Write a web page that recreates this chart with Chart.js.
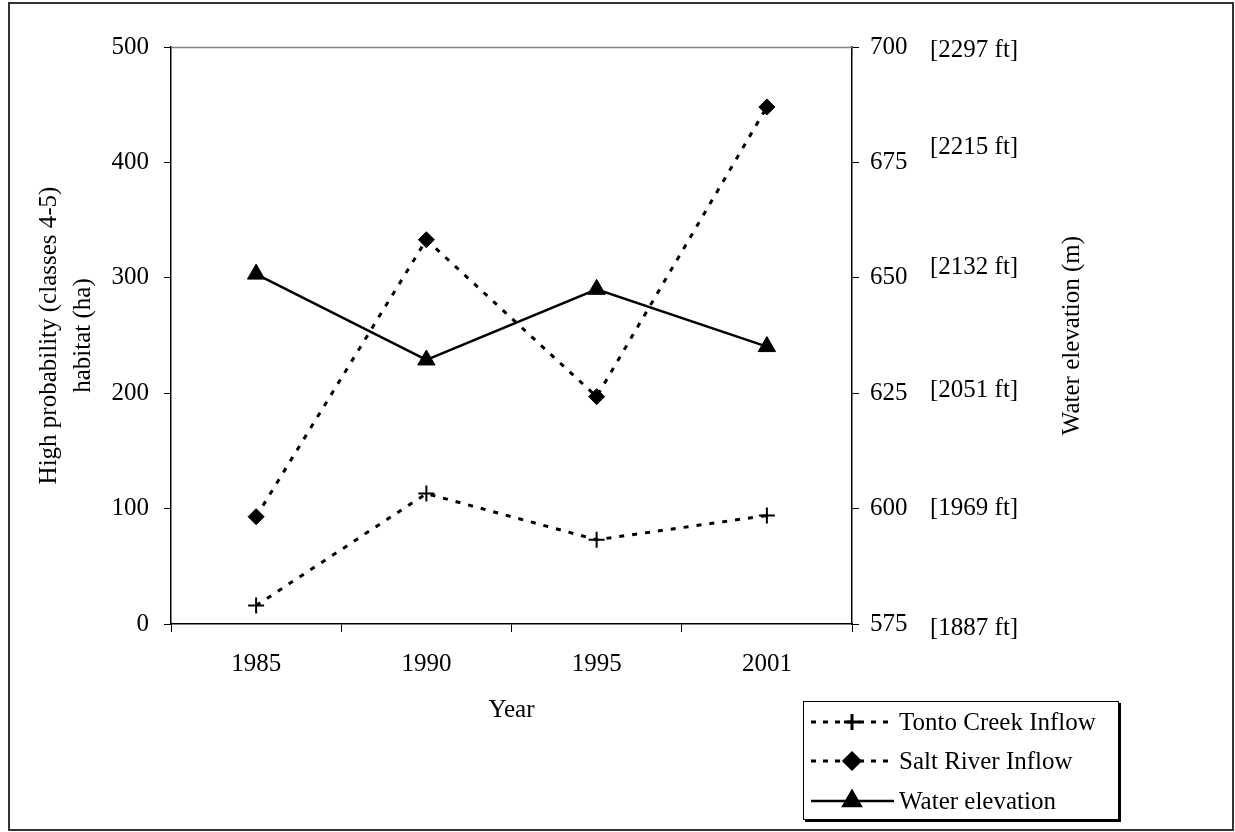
<!DOCTYPE html>
<html>
<head>
<meta charset="utf-8">
<script src="https://cdn.jsdelivr.net/npm/chart.js@4/dist/chart.umd.min.js"></script>
<style>
  body { margin: 0; background: #fff; }
</style>
</head>
<body>
<canvas id="chart" width="1235" height="832"></canvas>
<script>
// values
const years = ['1985', '1990', '1995', '2001']
const tontoCreek = [16, 113, 73, 94]
const saltRiver = [93, 333, 197, 448]
const waterElevation = [650.8, 632.2, 647.5, 635.1]
const elevTicks = [575, 600, 625, 650, 675, 700]
const feetLabels = ['[1887 ft]', '[1969 ft]', '[2051 ft]', '[2132 ft]', '[2215 ft]', '[2297 ft]']

const FONT = "'Liberation Serif', 'Times New Roman', serif"
const fontSpec = { family: FONT, size: 25 }

const extras = {
  id: 'extras',
  beforeDraw(chart) {
    const ctx = chart.ctx
    ctx.save()
    ctx.fillStyle = '#fff'
    ctx.fillRect(0, 0, chart.width, chart.height)
    ctx.strokeStyle = '#333'
    ctx.lineWidth = 2
    ctx.strokeRect(9, 3, 1224, 827)
    ctx.restore()
  },
  beforeDatasetsDraw(chart) {
    // gray top edge of the plot area
    const ctx = chart.ctx
    const a = chart.chartArea
    ctx.save()
    ctx.strokeStyle = '#808080'
    ctx.lineWidth = 1.5
    ctx.beginPath()
    ctx.moveTo(a.left, a.top + 0.5)
    ctx.lineTo(a.right, a.top + 0.5)
    ctx.stroke()
    ctx.restore()
  },
  afterDraw(chart) {
    const ctx = chart.ctx
    const a = chart.chartArea
    const yR = chart.scales.yR
    ctx.save()
    ctx.fillStyle = '#000'
    ctx.font = '25px ' + FONT

    // feet labels sit in their own text box, slightly off the ticks
    const nudge = [4, 0, -3, -10, -15, 3]
    ctx.textAlign = 'left'
    ctx.textBaseline = 'middle'
    elevTicks.forEach((v, i) => {
      ctx.fillText(feetLabels[i], 930, yR.getPixelForValue(v) + nudge[i])
    })

    // x axis title
    ctx.textAlign = 'center'
    ctx.fillText('Year', (a.left + a.right) / 2, 710)

    // left title, two lines
    const midY = (a.top + a.bottom) / 2
    ctx.save()
    ctx.translate(49, midY)
    ctx.rotate(-Math.PI / 2)
    ctx.fillText('High probability (classes 4-5)', 0, 0)
    ctx.restore()
    ctx.save()
    ctx.translate(83, midY)
    ctx.rotate(-Math.PI / 2)
    ctx.fillText('habitat (ha)', 0, 0)
    ctx.restore()

    // right title
    ctx.save()
    ctx.translate(1072, midY)
    ctx.rotate(-Math.PI / 2)
    ctx.fillText('Water elevation (m)', 0, 0)
    ctx.restore()

    // legend box with shadow
    ctx.fillStyle = '#000'
    ctx.fillRect(805, 703, 316, 119)
    ctx.fillStyle = '#fff'
    ctx.fillRect(803, 701, 316, 119)
    ctx.strokeStyle = '#000'
    ctx.lineWidth = 1
    ctx.strokeRect(803.5, 701.5, 315, 118)

    const rows = [722, 761, 801]
    chart.data.datasets.forEach((ds, i) => {
      const y = rows[i]
      ctx.strokeStyle = '#000'
      ctx.lineWidth = ds.borderWidth
      ctx.setLineDash(ds.borderDash ? [5, 7] : [])
      ctx.beginPath()
      ctx.moveTo(811, y)
      ctx.lineTo(894, y)
      ctx.stroke()
      ctx.setLineDash([])
      ctx.fillStyle = '#000'
      Chart.helpers.drawPoint(ctx, {
        pointStyle: ds.pointStyle,
        radius: ds.pointRadius,
        rotation: 0,
        borderWidth: ds.pointBorderWidth
      }, 852, y)
      ctx.fillStyle = '#000'
      ctx.textAlign = 'left'
      ctx.textBaseline = 'middle'
      ctx.fillText(ds.label, 899, y + 1)
    })
    ctx.restore()
  }
}

function makeChart() {
  const ctx = document.getElementById('chart').getContext('2d')
  return new Chart(ctx, {
    type: 'line',
    data: {
      labels: years,
      datasets: [
        {
          label: 'Tonto Creek Inflow',
          data: tontoCreek,
          yAxisID: 'y',
          borderColor: '#000',
          backgroundColor: '#000',
          borderWidth: 3,
          borderDash: [5, 8],
          pointStyle: 'cross',
          pointRadius: 8,
          pointBorderWidth: 2,
          pointBorderColor: '#000',
          tension: 0
        },
        {
          label: 'Salt River Inflow',
          data: saltRiver,
          yAxisID: 'y',
          borderColor: '#000',
          backgroundColor: '#000',
          borderWidth: 3,
          borderDash: [5, 8],
          pointStyle: 'rectRot',
          pointRadius: 8,
          pointBorderWidth: 1,
          pointBackgroundColor: '#000',
          pointBorderColor: '#000',
          tension: 0
        },
        {
          label: 'Water elevation',
          data: waterElevation,
          yAxisID: 'yR',
          borderColor: '#000',
          backgroundColor: '#000',
          borderWidth: 2.5,
          pointStyle: 'triangle',
          pointRadius: 10,
          pointBorderWidth: 1,
          pointBackgroundColor: '#000',
          pointBorderColor: '#000',
          tension: 0
        }
      ]
    },
    options: {
      responsive: false,
      animation: false,
      devicePixelRatio: 1,
      layout: { padding: { top: 47, left: 0, right: 0, bottom: 0 } },
      plugins: {
        legend: { display: false },
        tooltip: { enabled: false }
      },
      scales: {
        x: {
          offset: true,
          grid: { offset: true, drawOnChartArea: false, drawTicks: true, tickLength: 8, color: '#000' },
          border: { display: true, color: '#000', width: 1.5 },
          ticks: { color: '#000', font: fontSpec, padding: 17, maxRotation: 0 },
          afterFit(scale) { scale.height = 208 }
        },
        y: {
          position: 'left',
          min: 0,
          max: 500,
          grid: { drawOnChartArea: false, tickLength: 7, color: '#000' },
          border: { display: true, color: '#000', width: 1.5 },
          ticks: { stepSize: 100, color: '#000', font: fontSpec, padding: 15 },
          afterFit(scale) { scale.width = 171 }
        },
        yR: {
          position: 'right',
          min: 575,
          max: 700,
          grid: { drawOnChartArea: false, tickLength: 7, color: '#000' },
          border: { display: true, color: '#000', width: 1.5 },
          ticks: { stepSize: 25, color: '#000', font: fontSpec, padding: 11 },
          afterFit(scale) { scale.width = 383 }
        }
      }
    },
    plugins: [extras]
  })
}

makeChart()
</script>
</body>
</html>
